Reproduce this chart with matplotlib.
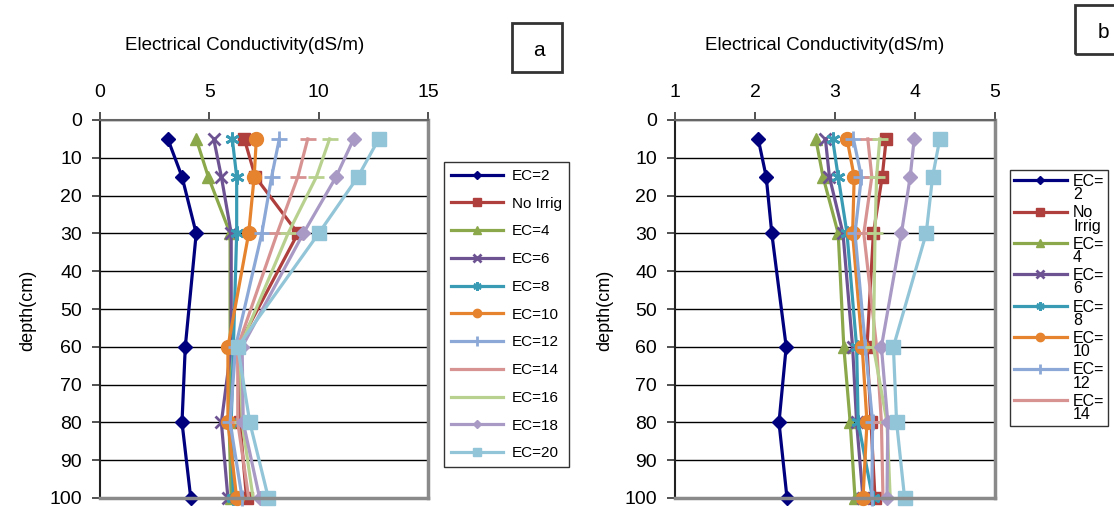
import matplotlib
matplotlib.use("Agg")
import numpy as np
import matplotlib.pyplot as plt
from matplotlib.patches import Rectangle

plt.rcParams['font.family'] = ['Liberation Sans', 'DejaVu Sans']

depth = [5, 15, 30, 60, 80, 100]
series_names = ["EC=2", "No Irrig", "EC=4", "EC=6", "EC=8", "EC=10",
                "EC=12", "EC=14", "EC=16", "EC=18", "EC=20"]
legend_b_labels = ["EC=\n2", "No\nIrrig", "EC=\n4", "EC=\n6", "EC=\n8",
                   "EC=\n10", "EC=\n12", "EC=\n14"]

# Panel a values (dS/m)
a_ec2 = [3.1, 3.75, 4.4, 3.9, 3.75, 4.15]
a_noirr = [6.6, 7.1, 9.05, 6.3, 6.4, 6.7]
a_ec4 = [4.4, 4.95, 5.95, 5.95, 5.9, 6.0]
a_ec6 = [5.2, 5.55, 6.0, 6.0, 5.55, 5.85]
a_ec8 = [6.05, 6.25, 6.25, 6.1, 6.0, 6.1]
a_ec10 = [7.15, 7.05, 6.8, 5.85, 5.85, 6.25]
a_ec12 = [8.2, 7.85, 7.4, 6.2, 5.95, 6.5]
a_ec14 = [9.5, 9.05, 8.1, 6.3, 6.3, 6.8]
a_ec16 = [10.5, 9.9, 8.6, 6.4, 6.5, 7.0]
a_ec18 = [11.6, 10.8, 9.3, 6.5, 6.55, 7.3]
a_ec20 = [12.75, 11.8, 10.0, 6.3, 6.85, 7.7]

# Panel b values (dS/m)
b_ec2 = [2.04, 2.14, 2.21, 2.39, 2.30, 2.40]
b_noirr = [3.64, 3.59, 3.48, 3.40, 3.45, 3.50]
b_ec4 = [2.76, 2.85, 3.04, 3.11, 3.19, 3.25]
b_ec6 = [2.88, 2.93, 3.10, 3.22, 3.27, 3.35]
b_ec8 = [2.97, 3.04, 3.15, 3.27, 3.29, 3.47]
b_ec10 = [3.15, 3.24, 3.22, 3.34, 3.40, 3.35]
b_ec12 = [3.23, 3.33, 3.25, 3.38, 3.47, 3.46]
b_ec14 = [3.41, 3.46, 3.36, 3.52, 3.58, 3.60]
b_ec16 = [3.56, 3.52, 3.50, 3.48, 3.65, 3.69]
b_ec18 = [3.99, 3.94, 3.83, 3.58, 3.66, 3.65]
b_ec20 = [4.31, 4.22, 4.14, 3.73, 3.77, 3.87]

a_series = [a_ec2, a_noirr, a_ec4, a_ec6, a_ec8, a_ec10, a_ec12, a_ec14, a_ec16, a_ec18, a_ec20]
b_series = [b_ec2, b_noirr, b_ec4, b_ec6, b_ec8, b_ec10, b_ec12, b_ec14, b_ec16, b_ec18, b_ec20]

a_xticks = [0, 5, 10, 15]
b_xticks = [1, 2, 3, 4, 5]
yticks = list(range(0, 101, 10))

colors = ['#00007F', '#AE3F3C', '#8BA84A', '#6E5393', '#3A9BB5', '#E5832E',
          '#8CA8D6', '#D79391', '#B9D18F', '#A899C5', '#92C5D7']
markers = ['D', 's', '^', 'x', (6, 2, 0), 'o', '+', '_', '_', 'D', 's']
msizes = [7.5, 9, 9, 9, 10, 10, 11, 11, 11, 7.5, 10]

W, H = 1114, 507
fig = plt.figure(figsize=(W / 100, H / 100), dpi=100)


def fx(px):
    return px / W


def fy(py):
    return 1 - py / H


def setup(ax, xlim, xticks):
    ax.set_xlim(*xlim)
    ax.set_ylim(100, 0)
    ax.set_xticks(xticks)
    ax.set_yticks(yticks)
    ax.xaxis.tick_top()
    ax.tick_params(axis='x', which='both', top=True, bottom=False, direction='out',
                   length=6, width=1.2, pad=8, labelsize=14, color='#333333')
    ax.tick_params(axis='y', direction='out', length=6, width=1.2, pad=7,
                   labelsize=14, color='#333333')
    ax.yaxis.grid(True, color='black', linewidth=1.0)
    ax.set_axisbelow(True)
    ax.spines['left'].set_color('#222222')
    ax.spines['left'].set_linewidth(1.5)
    ax.spines['top'].set_color('#666666')
    ax.spines['top'].set_linewidth(1.5)
    ax.spines['right'].set_color('#8a8a8a')
    ax.spines['right'].set_linewidth(2.5)
    ax.spines['bottom'].set_color('#8a8a8a')
    ax.spines['bottom'].set_linewidth(2.5)


def draw(ax, data):
    lines = []
    for vals, name, c, m, ms in zip(data, series_names, colors, markers, msizes):
        ln, = ax.plot(vals, depth, color=c, marker=m, markersize=ms, linewidth=2.3,
                      markeredgewidth=2 if m in ('x', '+', '_', (6, 2, 0)) else 1,
                      markeredgecolor=c, markerfacecolor=c, label=name, clip_on=False)
        lines.append(ln)
    return lines


# Panel a
axa = fig.add_axes([fx(100), fy(498), fx(428) - fx(100), fy(120) - fy(498)])
setup(axa, (0, 15), a_xticks)
la = draw(axa, a_series)
lega = fig.legend(la, series_names, loc='upper left',
                  bbox_to_anchor=(fx(444), fy(162)), bbox_transform=fig.transFigure,
                  borderaxespad=0, fontsize=11, frameon=True, fancybox=False,
                  edgecolor='black', handlelength=3.4, labelspacing=0.9,
                  markerscale=0.6, borderpad=0.45, handletextpad=0.6)
lega.get_frame().set_linewidth(1.0)

fig.text(fx(245), fy(46), "Electrical Conductivity(dS/m)", ha='center', va='center', fontsize=13.5)
fig.text(fx(28), fy(310), "depth(cm)", ha='center', va='center', rotation=90, fontsize=13)
fig.patches.append(Rectangle((fx(512), fy(72)), fx(50), 49 / H, transform=fig.transFigure,
                             fill=False, edgecolor='#333333', linewidth=2))
fig.text(fx(539), fy(50), "a", ha='center', va='center', fontsize=15)

# Panel b
axb = fig.add_axes([fx(675), fy(498), fx(995) - fx(675), fy(120) - fy(498)])
setup(axb, (1, 5), b_xticks)
lb = draw(axb, b_series)
legb = fig.legend(lb[:8], legend_b_labels, loc='upper left',
                  bbox_to_anchor=(fx(1010), fy(170)), bbox_transform=fig.transFigure,
                  borderaxespad=0, fontsize=11.5, frameon=True, fancybox=False,
                  edgecolor='black', handlelength=3.3, labelspacing=0.2,
                  markerscale=0.6, borderpad=0.25, handletextpad=0.4)
legb.get_frame().set_linewidth(1.0)
for t in legb.get_texts():
    t.set_linespacing(0.85)
for h in legb.legend_handles:
    h.set_ydata(np.asarray(h.get_ydata(), dtype=float) + 6.0)

fig.text(fx(825), fy(45), "Electrical Conductivity(dS/m)", ha='center', va='center', fontsize=13.5)
fig.text(fx(605), fy(310), "depth(cm)", ha='center', va='center', rotation=90, fontsize=13)
fig.patches.append(Rectangle((fx(1075), fy(54)), fx(60), 49 / H, transform=fig.transFigure,
                             fill=False, edgecolor='#333333', linewidth=2))
fig.text(fx(1103), fy(32), "b", ha='center', va='center', fontsize=15)

fig.savefig("out.png", dpi=100)
